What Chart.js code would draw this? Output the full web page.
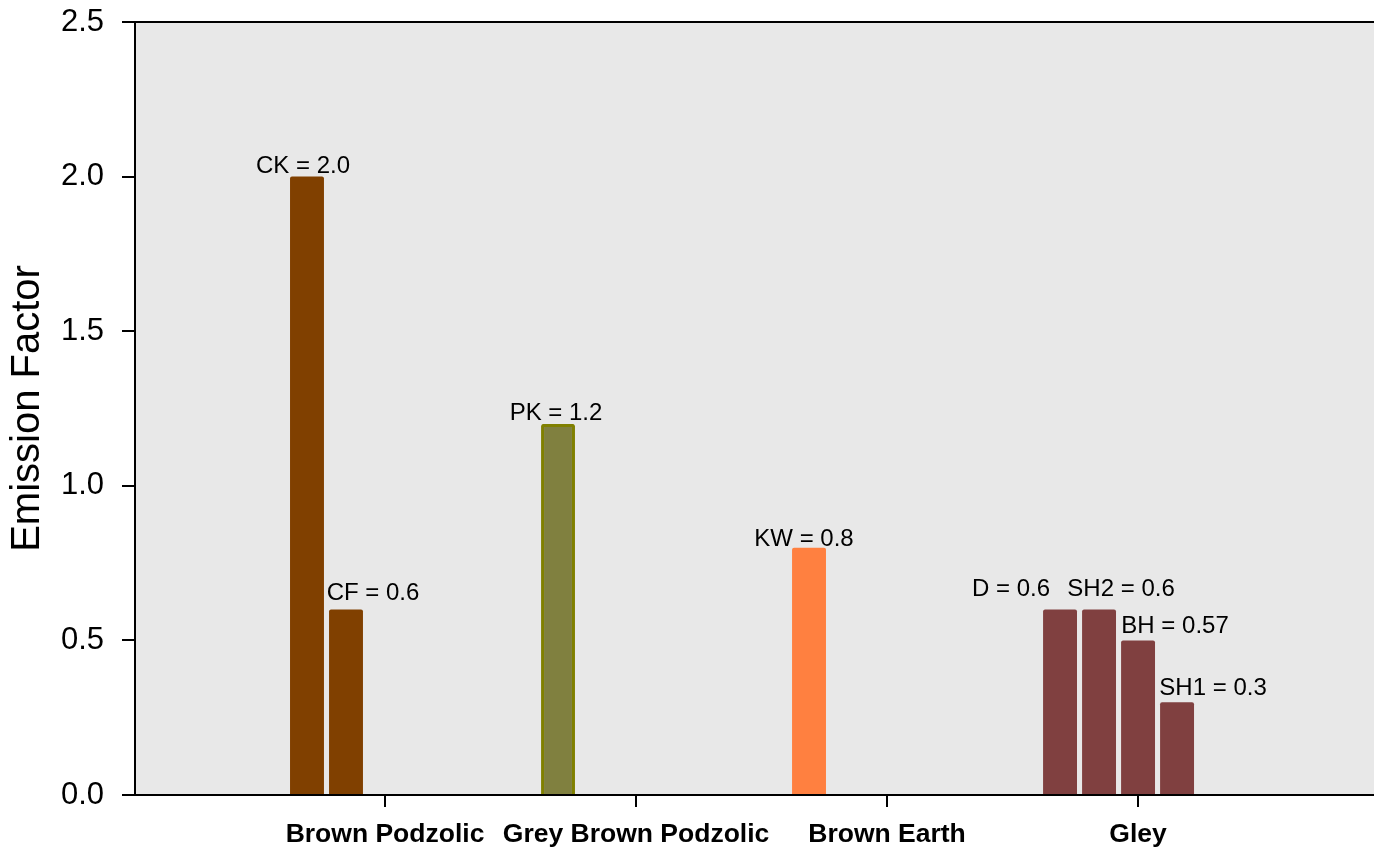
<!DOCTYPE html>
<html>
<head>
<meta charset="utf-8">
<title>Emission Factor by soil type</title>
<script src="https://cdn.jsdelivr.net/npm/chart.js@4.4.0/dist/chart.umd.min.js"></script>
<style>
  html, body { margin: 0; padding: 0; background: #fff; overflow: hidden; }
</style>
</head>
<body>
<canvas id="myChart" width="1374" height="854"></canvas>
<script>
// soil types along the x axis
const soilTypes = ['Brown Podzolic', 'Grey Brown Podzolic', 'Brown Earth', 'Gley'];

// one array per bar slot inside each soil group (null = no bar)
const slot1Values = [2.0, 1.2, 0.8, 0.6];
const slot2Values = [0.6, null, null, 0.6];
const slot3Values = [null, null, null, 0.5];
const slot4Values = [null, null, null, 0.3];
const slot5Values = [null, null, null, null]; // empty slot, keeps the spacing

// text written above each bar
const slot1Labels = ['CK = 2.0', 'PK = 1.2', 'KW = 0.8', 'D = 0.6'];
const slot2Labels = ['CF = 0.6', null, null, 'SH2 = 0.6'];
const slot3Labels = [null, null, null, 'BH = 0.57'];
const slot4Labels = [null, null, null, 'SH1 = 0.3'];

// colours per soil type
const fillColors = ['#804000', '#80803f', '#ff8040', '#804040'];
const edgeColors = ['#804000', '#808000', '#ff8040', '#804040'];
const edgeWidths = [0, 3, 0, 0];

// label nudges (px) from the bar top centre
const labelNudge = {
  'CK = 2.0': [-4, -4], 'CF = 0.6': [27, -9], 'PK = 1.2': [-2, -4],
  'KW = 0.8': [-5, -2], 'D = 0.6': [-49, -13], 'SH2 = 0.6': [22, -13],
  'BH = 0.57': [37, -7], 'SH1 = 0.3': [36, -7]
};

const FONT = "'Liberation Sans', Arial, Helvetica, sans-serif";

function toPoints(values) {
  return values.map((v, i) => ({ x: i, y: v }));
}

const allValues = [slot1Values, slot2Values, slot3Values, slot4Values, slot5Values];
const allLabels = [slot1Labels, slot2Labels, slot3Labels, slot4Labels, []];

const datasets = allValues.map((vals, k) => ({
  label: 'slot' + (k + 1),
  data: toPoints(vals),
  backgroundColor: fillColors,
  borderColor: edgeColors,
  borderWidth: edgeWidths,
  borderRadius: 2,
  borderSkipped: 'bottom',
  categoryPercentage: 0.777,
  barPercentage: 0.87
}));

// grey plot area + top frame line
const plotBackground = {
  id: 'plotBackground',
  beforeDraw(chart) {
    const { ctx, chartArea } = chart;
    ctx.save();
    ctx.fillStyle = '#e8e8e8';
    ctx.fillRect(chartArea.left, chartArea.top, chartArea.right - chartArea.left, chartArea.bottom - chartArea.top);
    ctx.restore();
  },
  afterDraw(chart) {
    const { ctx, chartArea } = chart;
    ctx.save();
    ctx.strokeStyle = '#000';
    ctx.lineWidth = 2;
    ctx.beginPath();
    ctx.moveTo(chartArea.left - 1, chartArea.top);
    ctx.lineTo(chartArea.right, chartArea.top);
    ctx.stroke();
    ctx.restore();
  }
};

// "CK = 2.0" style labels above the bars
const barLabels = {
  id: 'barLabels',
  afterDatasetsDraw(chart) {
    const ctx = chart.ctx;
    ctx.save();
    ctx.font = '24px ' + FONT;
    ctx.fillStyle = '#000';
    ctx.textAlign = 'center';
    ctx.textBaseline = 'alphabetic';
    allLabels.forEach((labels, d) => {
      const meta = chart.getDatasetMeta(d);
      labels.forEach((txt, i) => {
        if (!txt) return;
        const bar = meta.data[i];
        const n = labelNudge[txt] || [0, -4];
        ctx.fillText(txt, bar.x + n[0], bar.y + n[1]);
      });
    });
    ctx.restore();
  }
};

new Chart('myChart', {
  type: 'bar',
  data: { datasets: datasets },
  options: {
    responsive: false,
    animation: false,
    layout: { padding: { top: 22, right: 0, bottom: 0, left: 0 } },
    plugins: { legend: { display: false }, tooltip: { enabled: false } },
    scales: {
      x: {
        type: 'linear',
        offset: false,
        min: -0.996,
        max: 3.94,
        grid: { display: true, offset: false, drawOnChartArea: false, drawTicks: true, tickLength: 12, tickColor: '#000', lineWidth: 2 },
        border: { display: true, color: '#000', width: 2 },
        afterBuildTicks(scale) {
          scale.ticks = soilTypes.map((s, i) => ({ value: i }));
        },
        afterFit(scale) {
          scale.height = 59;
          scale.paddingLeft = 0;
          scale.paddingRight = 0;
        },
        ticks: {
          stepSize: 1,
          includeBounds: false,
          autoSkip: false,
          maxRotation: 0,
          padding: 12,
          color: '#000',
          font: { family: FONT, size: 26.5, weight: 'bold' },
          callback: (v) => soilTypes[v] !== undefined ? soilTypes[v] : ''
        }
      },
      y: {
        min: 0,
        max: 2.5,
        grid: { display: true, drawOnChartArea: false, drawTicks: true, tickLength: 13, tickColor: '#000', lineWidth: 2 },
        border: { display: true, color: '#000', width: 2 },
        afterFit(scale) {
          scale.width = 135;
          scale.paddingTop = 0;
          scale.paddingBottom = 0;
        },
        title: {
          display: true,
          text: 'Emission Factor',
          color: '#000',
          font: { family: FONT, size: 40 },
          padding: { top: 4, bottom: 0 }
        },
        ticks: {
          stepSize: 0.5,
          padding: 18,
          color: '#000',
          font: { family: FONT, size: 31 },
          callback: (v) => v.toFixed(1)
        }
      }
    }
  },
  plugins: [plotBackground, barLabels]
});
</script>
</body>
</html>
